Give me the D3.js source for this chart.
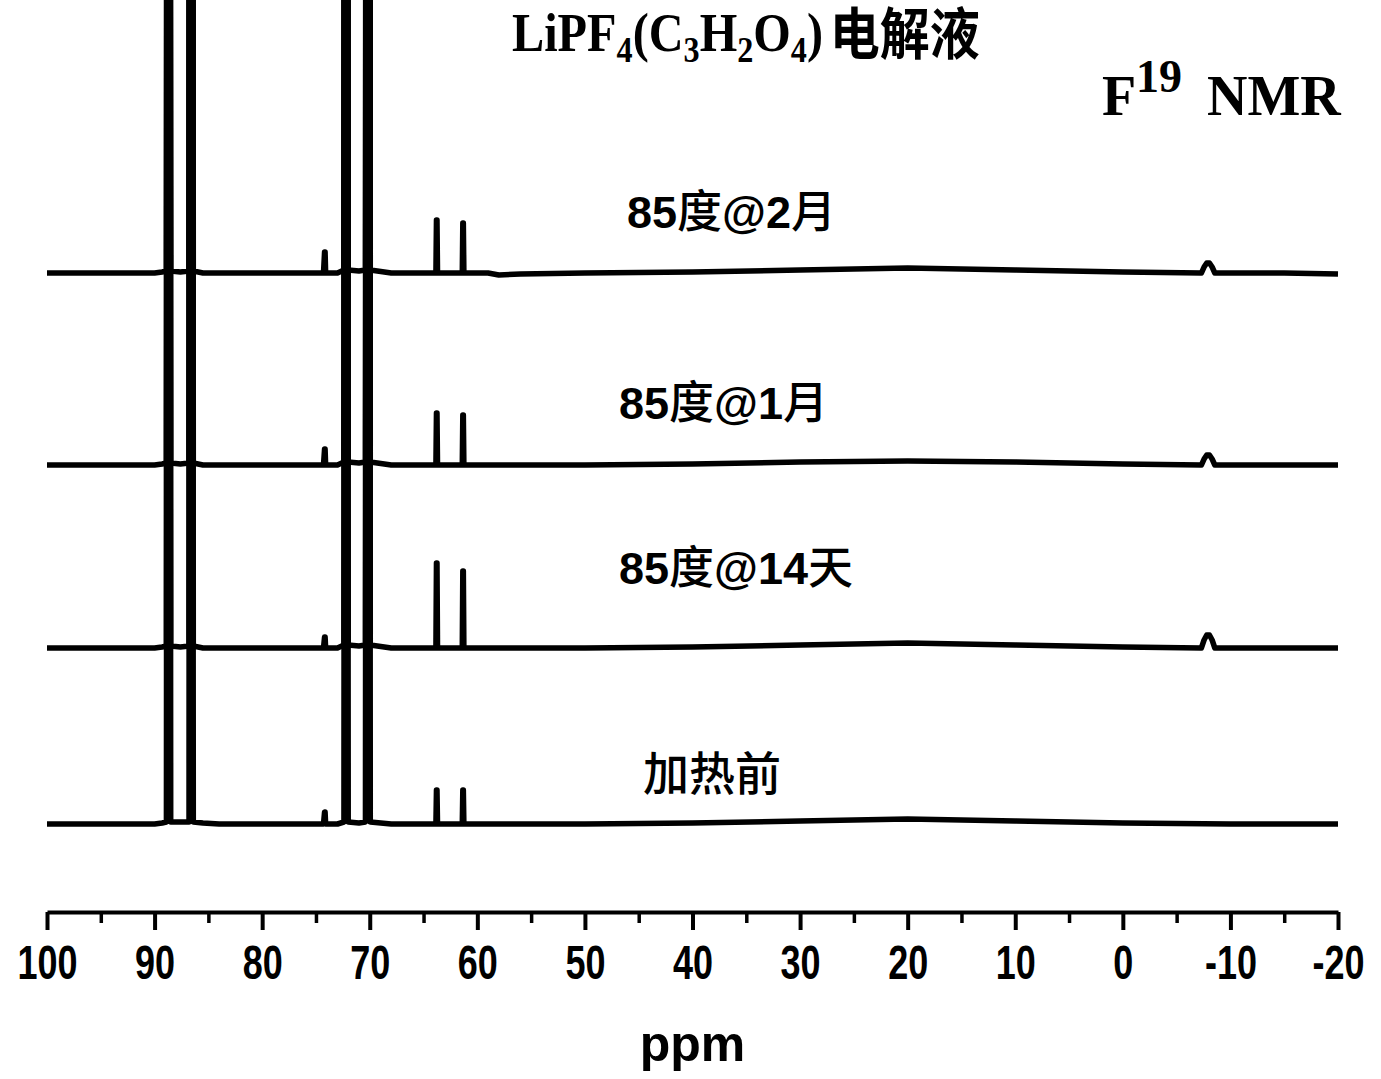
<!DOCTYPE html>
<html><head><meta charset="utf-8">
<script src="https://cdn.jsdelivr.net/npm/d3@7"></script>
<style>body{margin:0;background:#fff;overflow:hidden}</style>
</head><body>
<script>
// ---------- data ----------
const ppmTicks = [100, 90, 80, 70, 60, 50, 40, 30, 20, 10, 0, -10, -20];
const ppmMinorTicks = [95, 85, 75, 65, 55, 45, 35, 25, 15, 5, -5, -15];
const seriesNames = ["85度@2月", "85度@1月", "85度@14天", "加热前"];
const seriesOffsets = [639, 447, 264, 88]; // vertical stacking offsets (intensity units)

// [ppm, intensity] points (big PF peaks run off the top)
const trace2Month = [
  [100,0],[95,0],[90,0],[89.3,1],[88.9,2],[88.84,1200],[88.58,1200],[88.5,2],[87.6,1],
  [86.8,2],[86.75,1200],[86.49,1200],[86.4,2],[85.5,0],[80,0],[75,0],[74.3,0],
  [74.2,21],[74.15,21],[74.1,0],[73,0],[72.4,3],[72.34,1200],[72.08,1200],[72.0,3],
  [71,2],[70.4,3],[70.32,1200],[70.02,1200],[69.95,3],[68,0],[63.85,0],[63.8,53],
  [63.75,53],[63.7,0],[61.4,0],[61.35,50],[61.3,50],[61.25,0],[59,0],[58,-2],[56,-1],[50,0],
  [40,1],[30,3],[20,5],[10,3],[0,1],[-7.3,0],[-7.55,6],[-7.8,10],[-8.05,10],[-8.3,6],[-8.55,0],
  [-15,0],[-20,-1]
];
const trace1Month = [
  [100,0],[95,0],[90,0],[89.3,1],[88.9,2],[88.84,1200],[88.58,1200],[88.5,2],[87.6,1],
  [86.8,2],[86.75,1200],[86.49,1200],[86.4,2],[85.5,0],[80,0],[75,0],[74.3,0],
  [74.2,16],[74.15,16],[74.1,0],[73,0],[72.4,3],[72.34,1200],[72.08,1200],[72.0,3],
  [71,2],[70.4,3],[70.32,1200],[70.02,1200],[69.95,3],[68,0],[63.85,0],[63.8,52],
  [63.75,52],[63.7,0],[61.4,0],[61.35,50],[61.3,50],[61.25,0],[58,0],[50,0],
  [40,1],[30,3],[20,4],[10,3],[0,1],[-7.3,0],[-7.55,6],[-7.8,10],[-8.05,10],[-8.3,6],[-8.55,0],
  [-15,0],[-20,0]
];
const trace14Day = [
  [100,0],[95,0],[90,0],[89.3,1],[88.9,2],[88.84,1200],[88.58,1200],[88.5,2],[87.6,1],
  [86.8,2],[86.75,1200],[86.49,1200],[86.4,2],[85.5,0],[80,0],[75,0],[74.3,0],
  [74.2,11],[74.15,11],[74.1,0],[73,0],[72.4,3],[72.34,1200],[72.08,1200],[72.0,3],
  [71,2],[70.4,3],[70.32,1200],[70.02,1200],[69.95,3],[68,0],[63.85,0],[63.8,85],
  [63.75,85],[63.7,0],[61.4,0],[61.35,77],[61.3,77],[61.25,0],[58,0],[50,0],
  [40,1],[30,3],[20,5],[10,3],[0,1],[-7.3,0],[-7.55,8],[-7.8,13],[-8.05,13],[-8.3,8],[-8.55,0],
  [-15,0],[-20,0]
];
const traceBefore = [
  [100,0],[95,0],[90,0],[89.3,1],[88.9,2],[88.84,1200],[88.58,1200],[88.5,2],[87.6,2],
  [86.8,2],[86.75,1200],[86.49,1200],[86.4,2],[85.5,1],[84,0],[80,0],[75,0],[74.3,0],
  [74.2,12],[74.15,12],[74.1,0],[73,0],[72.4,2],[72.34,1200],[72.08,1200],[72.0,2],
  [71,1],[70.4,2],[70.32,1200],[70.02,1200],[69.95,2],[68,0],[63.85,0],[63.8,34],
  [63.75,34],[63.7,0],[61.4,0],[61.35,34],[61.3,34],[61.25,0],[55,0],[50,0],
  [40,1],[30,3],[20,5],[10,3],[0,1],[-10,0],[-20,0]
];
const seriesData = [trace2Month, trace1Month, trace14Day, traceBefore];

// ---------- layout ----------
const W = 1381, H = 1079;
const axisY = 912;
const x = d3.scaleLinear().domain([100, -20]).range([47, 1338]);
const y = d3.scaleLinear().domain([0, axisY]).range([axisY, 0]);

const svg = d3.select("body").append("svg")
  .attr("width", W).attr("height", H)
  .style("background", "#fff");

svg.append("defs").append("clipPath").attr("id", "plotclip")
  .append("rect").attr("x", 0).attr("y", 0).attr("width", W).attr("height", axisY - 2);

const line = d3.line().x(d => x(d[0])).y(d => d[1]);

const g = svg.append("g").attr("clip-path", "url(#plotclip)");
seriesData.forEach((data, i) => {
  const off = seriesOffsets[i];
  g.append("path")
    .datum(data.map(d => [d[0], y(off + d[1])]))
    .attr("d", line)
    .attr("fill", "none")
    .attr("stroke", "#000")
    .attr("stroke-width", 5.5)
    .attr("stroke-linejoin", "round");
});

// ---------- axis ----------
const axis = d3.axisBottom(x).tickValues(ppmTicks).tickSize(18).tickSizeOuter(0).tickPadding(0)
  .tickFormat(d => String(d));
const ag = svg.append("g").attr("transform", `translate(0,${axisY})`).call(axis);
ag.select(".domain").attr("stroke", "#000").attr("stroke-width", 4);
ag.selectAll(".tick line").attr("stroke", "#000").attr("stroke-width", 4);
ag.selectAll(".tick text")
  .attr("y", 0).attr("dy", 0)
  .attr("transform", "translate(0,67) scale(1,1.34)")
  .attr("fill", "#000")
  .style("font-family", "'Liberation Sans', Arial, sans-serif")
  .style("font-weight", "bold")
  .style("font-size", "36px");

const minorAxis = d3.axisBottom(x).tickValues(ppmMinorTicks).tickSize(11).tickSizeOuter(0).tickFormat("");
const mg = svg.append("g").attr("transform", `translate(0,${axisY})`).call(minorAxis);
mg.select(".domain").remove();
mg.selectAll(".tick line").attr("stroke", "#000").attr("stroke-width", 3.5);

svg.append("text").attr("x", (x(100) + x(-20)) / 2).attr("y", 1061)
  .attr("text-anchor", "middle")
  .style("font-family", "'Liberation Sans', Arial, sans-serif")
  .style("font-weight", "bold").style("font-size", "50px")
  .text("ppm");

// ---------- series labels ----------
const latin = "'Liberation Sans', Arial, sans-serif";
const cjk = "'Noto Sans CJK SC', sans-serif";
function addMixed(str, xx, yy, size) {
  const t = svg.append("text").attr("x", xx).attr("y", yy).style("font-size", size + "px");
  const runs = str.match(/[\u4e00-\u9fff]+|[^\u4e00-\u9fff]+/g);
  runs.forEach(r => {
    const isC = /[\u4e00-\u9fff]/.test(r);
    t.append("tspan").text(r)
      .style("font-family", isC ? cjk : latin)
      .style("font-weight", isC ? "500" : "bold");
  });
  return t;
}
const labelPos = [[627, 228, 45], [619, 419, 45], [619, 584, 45], [643, 790, 46]];
seriesNames.forEach((n, i) => addMixed(n, labelPos[i][0], labelPos[i][1], labelPos[i][2]));

// ---------- title ----------
const serif = "'Liberation Serif', 'Times New Roman', serif";
const title = svg.append("text").attr("x", 0).attr("y", 51)
  .style("font-family", serif).style("font-weight", "bold").style("font-size", "54px");
const parts = [["LiPF", 0], ["4", 1], ["(C", 0], ["3", 1], ["H", 0], ["2", 1], ["O", 0], ["4", 1], [")", 0]];
parts.forEach(([s, sub], i) => {
  const ts = title.append("tspan").text(s);
  const prevSub = i > 0 && parts[i - 1][1];
  if (sub) ts.attr("dy", 11).style("font-size", "36px");
  else ts.attr("dy", prevSub ? -11 : 0);
});
title.append("tspan").text("\u00a0").style("font-size", "30px");
title.append("tspan").text("电解液").attr("dy", 3)
  .style("font-family", cjk).style("font-weight", "bold").style("font-size", "56px");
const bb = title.node().getBBox();
const sx = (980 - 512) / bb.width;
title.attr("transform", `translate(512,0) scale(${sx},1) translate(${-bb.x},0)`);

svg.append("text").attr("x", 1102).attr("y", 115)
  .style("font-family", serif).style("font-weight", "bold").style("font-size", "56px").text("F");
svg.append("text").attr("x", 1136).attr("y", 92)
  .style("font-family", serif).style("font-weight", "bold").style("font-size", "46px").text("19");
svg.append("text").attr("x", 1207).attr("y", 115)
  .style("font-family", serif).style("font-weight", "bold").style("font-size", "56px").text("NMR");
</script>
</body></html>
